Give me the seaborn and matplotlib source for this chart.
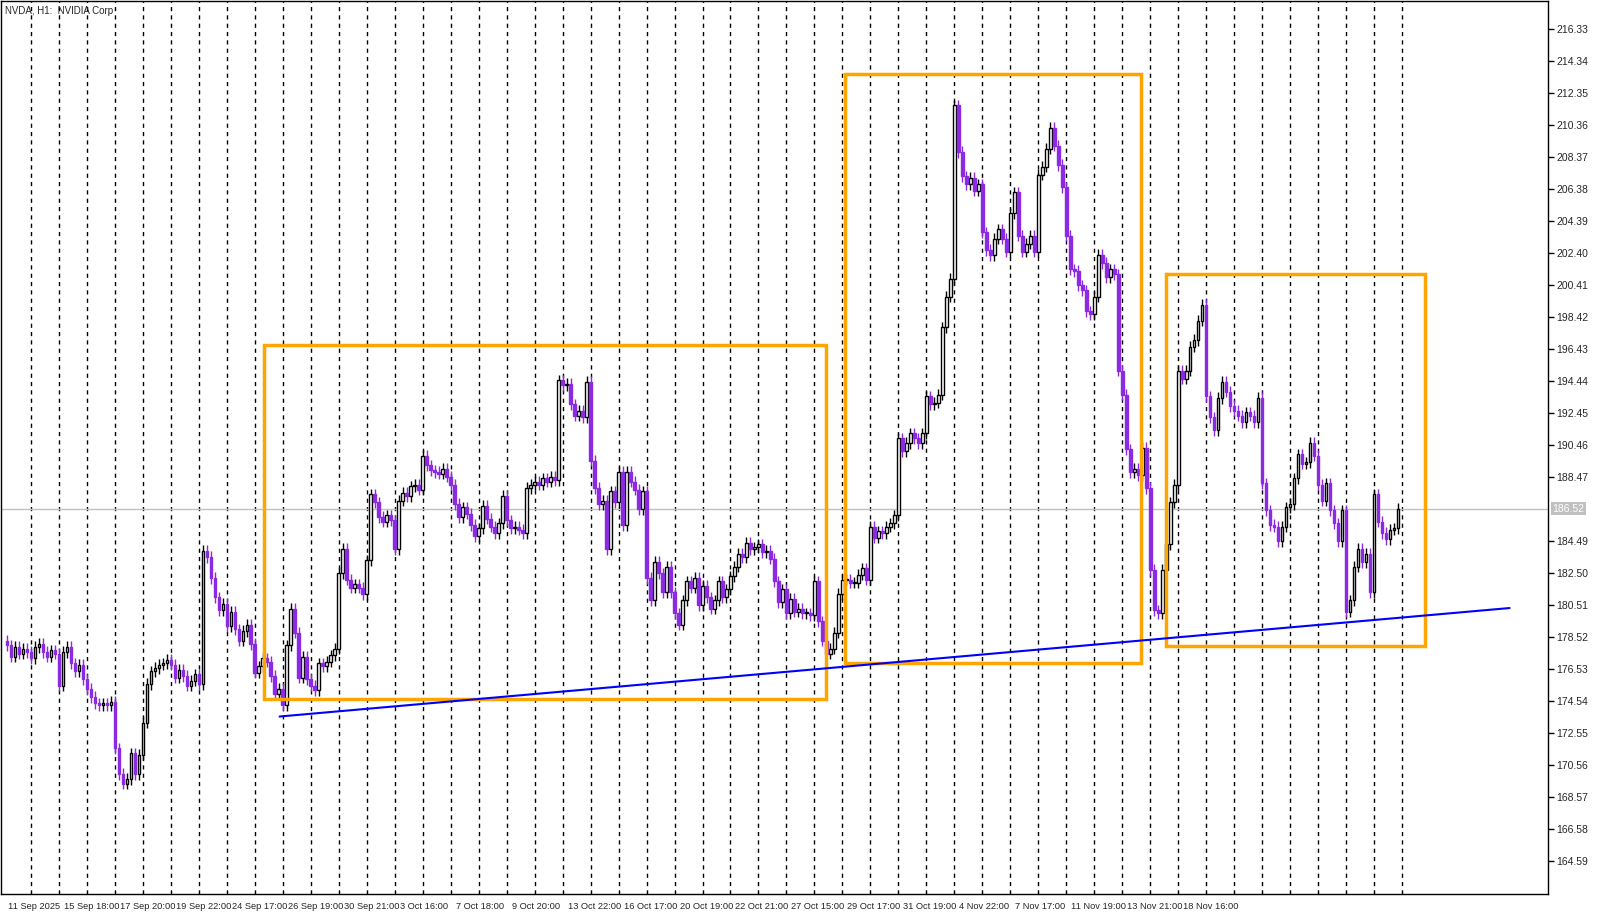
import matplotlib
matplotlib.use("Agg")
import matplotlib.pyplot as plt
import matplotlib.transforms as mtransforms
from matplotlib.patches import Rectangle
import seaborn as sns
import numpy as np

sns.set_style("white")
plt.rcParams['font.family'] = ['Liberation Sans', 'DejaVu Sans']

# ---------------- data ----------------
first_open = 178.3
closes = [
    178.0,177.3,177.9,177.5,177.8,177.6,                 # D0
    177.2,177.9,178.1,177.6,177.3,177.7,177.5,           # D1
    175.5,177.6,177.9,176.9,176.4,176.8,175.9,
    175.3,174.8,174.4,174.3,174.4,174.3,174.5,
    171.6,170.0,169.4,169.7,171.3,170.0,171.2,
    173.2,175.6,176.4,176.6,176.8,176.9,177.1,
    176.8,176.0,176.5,176.1,175.5,175.8,176.2,
    175.6,183.9,183.5,182.2,181.0,180.2,180.6,
    179.2,180.1,179.0,178.3,178.9,179.3,178.1,
    176.3,176.7,177.2,177.0,176.1,175.0,175.3,
    174.3,178.0,180.3,178.8,176.0,177.3,175.9,
    175.5,175.2,176.9,176.7,177.0,177.4,177.8,
    182.5,184.0,182.1,181.6,181.8,181.6,181.2,
    183.3,187.4,186.9,186.0,185.7,186.1,185.8,
    184.0,187.0,187.5,187.3,187.9,188.0,187.7,
    189.8,189.2,188.9,188.8,188.7,189.0,188.5,
    188.0,186.8,186.0,186.6,186.2,185.5,184.8,
    185.3,186.7,185.9,185.4,185.0,185.6,187.3,
    185.8,185.3,185.4,185.2,185.0,187.8,188.0,
    188.2,188.0,188.4,188.2,188.5,188.3,194.5,
    194.2,194.3,193.0,192.3,192.6,192.2,194.4,
    189.5,187.8,186.8,187.0,184.0,187.6,186.9,
    188.8,185.5,188.8,188.2,187.7,186.5,187.6,
    182.2,180.8,183.2,182.5,181.3,182.9,181.3,
    180.0,179.3,180.8,182.0,181.6,182.2,180.5,
    181.7,181.0,180.3,180.8,182.0,181.0,181.5,
    182.3,182.9,183.7,183.5,184.4,184.0,184.1,
    184.3,183.8,183.9,183.4,182.0,180.7,181.5,
    180.0,180.9,180.1,180.3,180.0,180.0,179.9,           # D28
    182.0,179.5,178.3,177.5,177.8,178.8,181.2,
    182.1,182.1,181.9,181.9,182.4,182.8,182.1,
    185.4,184.7,185.1,185.0,185.4,185.6,186.1,
    190.9,190.1,190.6,191.2,190.9,190.6,191.2,
    193.5,193.0,193.1,193.6,197.8,199.7,200.8,
    211.6,208.7,207.2,206.7,207.1,206.3,206.7,
    203.7,202.6,202.3,203.3,203.9,203.3,202.5,
    204.9,206.2,203.5,202.5,203.0,203.5,202.5,
    207.3,207.8,208.9,210.2,209.1,207.9,206.5,
    203.5,201.4,201.3,200.4,200.1,198.8,198.6,
    199.7,202.3,201.8,200.9,201.4,201.1,195.1,
    193.6,190.2,188.8,189.0,188.6,190.3,187.8,           # D40
    182.7,180.2,180.0,182.7,184.3,186.9,188.0,
    195.1,194.6,195.1,196.6,197.0,198.2,199.2,
    193.5,192.2,191.4,193.4,194.4,193.8,192.9,
    192.6,192.3,191.9,192.5,192.3,191.9,193.4,
    188.1,186.4,185.5,185.4,184.5,185.4,186.6,
    186.8,188.4,189.9,189.3,189.4,190.6,189.8,
    188.0,187.0,188.1,186.4,185.6,184.5,186.4,
    180.1,180.8,182.9,184.0,183.2,183.7,181.3,
    187.4,185.7,185.0,184.6,185.2,185.3,186.5,           # D49
]
wick_size = 0.35
day_start_bars = list(range(6, 351, 7))
current_price = 186.52

price_ticks = [216.33,214.34,212.35,210.36,208.37,206.38,204.39,202.40,200.41,
               198.42,196.43,194.44,192.45,190.46,188.47,184.49,182.50,180.51,
               178.52,176.53,174.54,172.55,170.56,168.57,166.58,164.59]
date_labels = ["11 Sep 2025","15 Sep 18:00","17 Sep 20:00","19 Sep 22:00","24 Sep 17:00",
               "26 Sep 19:00","30 Sep 21:00","3 Oct 16:00","7 Oct 18:00","9 Oct 20:00",
               "13 Oct 22:00","16 Oct 17:00","20 Oct 19:00","22 Oct 21:00","27 Oct 15:00",
               "29 Oct 17:00","31 Oct 19:00","4 Nov 22:00","7 Nov 17:00","11 Nov 19:00",
               "13 Nov 21:00","18 Nov 16:00"]
date_label_bars = [14 * k for k in range(len(date_labels))]

boxes = [  # (x0 bar, x1 bar, low price, high price)
    (64.2, 204.9, 174.68, 196.71),
    (209.7, 283.8, 176.89, 213.54),
    (289.9, 354.8, 177.97, 201.14),
]
trend_x = [68.2, 375.9]
trend_y = [173.58, 180.33]

# ---------------- plot ----------------
fig = plt.figure(figsize=(15.97, 9.15), dpi=100)
ax = fig.add_axes([0.0006, 0.0230, 0.9687, 0.9759])

closes_a = np.array(closes)
opens_a = np.r_[first_open, closes_a[:-1]]
idx = np.arange(len(closes_a))
up = closes_a >= opens_a
hi = np.maximum(opens_a, closes_a) + wick_size
lo = np.minimum(opens_a, closes_a) - wick_size
purple = '#8a2be2'

for d in day_start_bars:
    ax.axvline(d, color='black', ls=(0, (3, 3)), lw=1, zorder=0)

ax.axhline(current_price, color='#c0c0c0', lw=1, zorder=0.5)

ax.vlines(idx, lo, hi, colors=np.where(up, 'black', purple), lw=1, zorder=2)
body = np.abs(closes_a - opens_a)
body = np.maximum(body, 0.06)
bottom = np.minimum(opens_a, closes_a)
ax.bar(idx[up], body[up], bottom=bottom[up], width=0.65, facecolor='white',
       edgecolor='black', lw=1, zorder=3)
ax.bar(idx[~up], body[~up], bottom=bottom[~up], width=0.65, facecolor=purple,
       edgecolor=purple, lw=1, zorder=3)

for x0, x1, y0, y1 in boxes:
    ax.add_patch(Rectangle((x0, y0), x1 - x0, y1 - y0, fill=False,
                           edgecolor='#ffa500', lw=2.5, zorder=4))

sns.lineplot(x=trend_x, y=trend_y, ax=ax, color='#0000ff', lw=1.5, zorder=5)

ax.set_xlim(-1.5, 385.5)
ax.set_ylim(162.54, 218.10)

ax.yaxis.tick_right()
ax.set_yticks(price_ticks)
ax.set_yticklabels([f"{p:.2f}" for p in price_ticks], fontsize=7.5)
ax.tick_params(axis='y', direction='out', length=4, width=1, color='black', pad=2)

ax.set_xticks(date_label_bars)
ax.set_xticklabels(date_labels, fontsize=6.7, ha='left')
ax.tick_params(axis='x', direction='out', length=4, width=1, color='black', pad=2)
offset = mtransforms.ScaledTranslation(1 / 100, 0, fig.dpi_scale_trans)
for lab in ax.get_xticklabels():
    lab.set_transform(lab.get_transform() + offset)

for s in ax.spines.values():
    s.set_visible(True)
    s.set_color('black')
    s.set_linewidth(1)

trans = mtransforms.blended_transform_factory(ax.transAxes, ax.transData)
ax.text(1.003, current_price, f"{current_price:.2f}", transform=trans, fontsize=7.5,
        color='white', va='center', ha='left',
        bbox=dict(boxstyle='square,pad=0.15', facecolor='#c0c0c0', edgecolor='none'))

fig.text(0.003, 0.993, "NVDA, H1:  NVIDIA Corp", fontsize=7, va='top', ha='left')

fig.savefig("out.png", dpi=100)
